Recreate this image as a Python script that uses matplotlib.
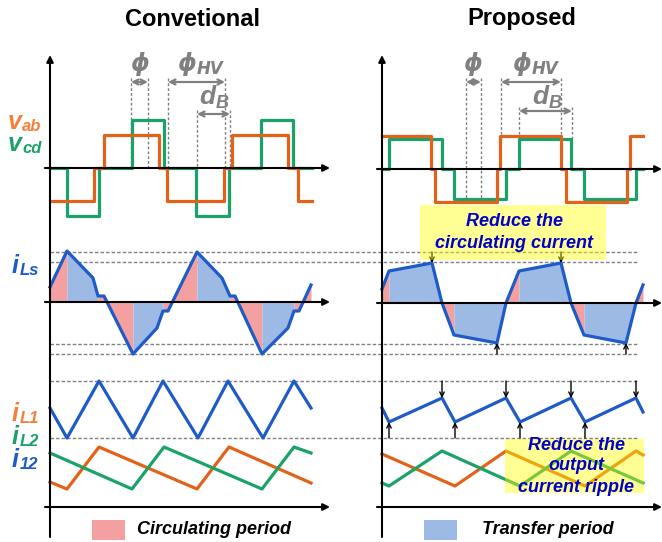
import numpy as np
import matplotlib.pyplot as plt
from matplotlib.patches import Rectangle

plt.rcParams["font.family"] = ["Liberation Sans", "DejaVu Sans"]

# waveform data: x = time (px), value = height above the row baseline (px)
# --- conventional (left) ---
vab_conv_edges = [50, 94, 104, 159, 167, 224, 232, 288, 298, 312]
vab_conv_level = [-33, 0, 33, 0, -33, 0, 33, 0, -33, -33]
vcd_conv_edges = [50, 67, 99, 132, 164, 196, 229, 261, 293, 312]
vcd_conv_level = [0, -48, 0, 48, 0, -48, 0, 48, 0, 0]

ils_conv_t = [50, 67, 93, 98, 104, 133, 157, 163, 168, 197, 222, 230, 235, 262, 288, 294, 299, 311]
ils_conv_v = [15, 51, 24, 6, 6, -52, -26, -9, -9, 50, 24, 6, 6, -52, -26, -9, -9, 17]
circ_conv = [(50, 67), (98, 133), (163, 197), (230, 262), (294, 311)]
xfer_conv = [(67, 98), (133, 163), (197, 230), (262, 294)]

i12_conv_t = [50, 67, 99, 133, 163, 198, 228, 263, 294, 311]
i12_conv_v = [99, 69, 126, 69, 126, 69, 126, 69, 126, 99]
il1_conv_t = [50, 67, 99, 197, 229, 311]
il1_conv_v = [25, 18, 60, 18, 60, 24]
il2_conv_t = [50, 132, 164, 262, 294, 311]
il2_conv_v = [54, 18, 60, 18, 60, 54]

# --- proposed (right) ---
vab_prop_edges = [382, 431, 435, 497, 500, 561, 566, 627, 630, 643]
vab_prop_level = [33, 0, -33, 0, 33, 0, -33, 0, 33, 33]
vcd_prop_edges = [382, 389, 442, 454, 506, 519, 571, 584, 636, 643]
vcd_prop_level = [0, 30, 0, -30, 0, 30, 0, -30, 0, 0]

ils_prop_t = [382, 389, 432, 442, 454, 497, 506, 519, 561, 571, 584, 626, 636, 643]
ils_prop_v = [14, 32, 40, 0, -32, -40, 0, 32, 40, 0, -32, -40, 0, 18]
circ_prop = [(382, 389), (442, 454), (506, 519), (571, 584), (636, 643)]
xfer_prop = [(389, 442), (454, 506), (519, 571), (584, 636)]

i12_prop_t = [382, 389, 442, 455, 506, 520, 571, 585, 636, 643]
i12_prop_v = [99, 85, 109, 85, 109, 85, 109, 85, 109, 95]
il1_prop_t = [382, 455, 506, 585, 636, 643]
il1_prop_v = [53, 21, 56, 21, 56, 52]
il2_prop_t = [382, 389, 442, 520, 571, 643]
il2_prop_v = [24, 21, 56, 21, 56, 24]

# reference levels (dashed) for the current rows
ils_levels = [50, 40, -42, -52]
i12_levels = [126, 69]

# phase spans (start, end) for the dimension arrows
phi_conv, phihv_conv, db_conv = (131, 148), (168, 225), (197, 230)
phi_prop, phihv_prop, db_prop = (466, 481), (501, 561), (519, 572)

ORANGE = "#E2621A"
GREEN = "#1AA268"
BLUE = "#1F5BC8"
PINK = "#F4A0A0"
LBLUE = "#9DBAE5"
GRAY = "#808080"
NAVY = "#0000C8"

V_BASE, I_BASE, B_BASE = 168, 302, 507
LW = 2.3

fig = plt.figure(figsize=(6.62, 5.42), dpi=100)
ax = fig.add_axes([0, 0, 1, 1])
ax.set_xlim(0, 662)
ax.set_ylim(542, 0)
ax.axis("off")


def arrow(x0, y0, x1, y1, style="-|>", color="black", lw=1.5, ms=10, z=5):
    ax.annotate("", xy=(x1, y1), xytext=(x0, y0),
                arrowprops=dict(arrowstyle=style, color=color, lw=lw,
                                mutation_scale=ms, shrinkA=0, shrinkB=0),
                zorder=z)


def sub_label(x, y, main, sub, color, size=16, subsize=12, fam=None, fy=0.33):
    kw = dict(color=color, fontweight="bold", fontstyle="italic")
    if fam:
        kw["family"] = fam
    t = ax.text(x, y, main, fontsize=size, ha="left", va="center", **kw)
    ax.annotate(sub, xy=(1, fy), xycoords=t, xytext=(0.3, 0),
                textcoords="offset points", fontsize=subsize,
                ha="left", va="center", **kw)


def fill_spans(t, v, base, spans, color):
    for a, b in spans:
        xs = np.array([a] + [p for p in t if a < p < b] + [b], dtype=float)
        ys = np.interp(xs, t, v)
        ax.fill_between(xs, base - ys, base, color=color, lw=0, zorder=1)


# dashed reference levels span both panels
for lv in ils_levels:
    ax.plot([50, 637], [I_BASE - lv, I_BASE - lv], color=GRAY, lw=1,
            ls=(0, (2.5, 1.5)), zorder=0)
for lv in i12_levels:
    ax.plot([50, 637], [B_BASE - lv, B_BASE - lv], color=GRAY, lw=1,
            ls=(0, (2.5, 1.5)), zorder=0)

panels = [
    dict(x0=50, xa=45, title="Convetional", tx=193,
         vab=(vab_conv_edges, vab_conv_level), vcd=(vcd_conv_edges, vcd_conv_level),
         ils=(ils_conv_t, ils_conv_v), circ=circ_conv, xfer=xfer_conv,
         i12=(i12_conv_t, i12_conv_v), il1=(il1_conv_t, il1_conv_v), il2=(il2_conv_t, il2_conv_v)),
    dict(x0=382, xa=377, title="Proposed", tx=522,
         vab=(vab_prop_edges, vab_prop_level), vcd=(vcd_prop_edges, vcd_prop_level),
         ils=(ils_prop_t, ils_prop_v), circ=circ_prop, xfer=xfer_prop,
         i12=(i12_prop_t, i12_prop_v), il1=(il1_prop_t, il1_prop_v), il2=(il2_prop_t, il2_prop_v)),
]

for p in panels:
    x0 = p["x0"]
    ax.text(p["tx"], 19, p["title"], fontsize=17, fontweight="bold",
            ha="center", va="center")
    # axes
    arrow(x0, 537, x0, 55)
    for yb in (V_BASE + (x0 > 300), I_BASE + (x0 > 300), B_BASE):
        arrow(p["xa"], yb, p["xa"] + 285, yb)

    vb = V_BASE + (x0 > 300)
    ib = I_BASE + (x0 > 300)
    e, lv = p["vcd"]
    ax.step(e, [vb - v for v in lv], where="post", color=GREEN, lw=LW, zorder=3)
    e, lv = p["vab"]
    ax.step(e, [vb - v for v in lv], where="post", color=ORANGE, lw=LW, zorder=3)

    t, v = p["ils"]
    fill_spans(t, v, ib, p["circ"], PINK)
    fill_spans(t, v, ib, p["xfer"], LBLUE)
    ax.plot(t, [ib - q for q in v], color=BLUE, lw=LW, zorder=3)

    for key, col in (("il1", ORANGE), ("il2", GREEN), ("i12", BLUE)):
        t, v = p[key]
        ax.plot(t, [B_BASE - q for q in v], color=col, lw=LW, zorder=3)

# dimension annotations
dims = [
    (phi_conv, 82, V_BASE, V_BASE), (phihv_conv, 82, V_BASE, V_BASE), (db_conv, 114, V_BASE, V_BASE),
    (phi_prop, 82, 200, 200), (phihv_prop, 82, 137, 137), (db_prop, 111, 140, 140),
]
for (a, b), ya, ea, eb in dims:
    ax.plot([a, a], [ya - 4, ea], color=GRAY, lw=1, ls=(0, (2, 1.5)), zorder=2)
    ax.plot([b, b], [ya - 4, eb], color=GRAY, lw=1, ls=(0, (2, 1.5)), zorder=2)
    arrow(a, ya, b, ya, style="<->", color=GRAY, lw=1.6, ms=9)

ax.text(140, 64, "ϕ", fontsize=17, color=GRAY, fontweight="bold", fontstyle="italic",
        ha="center", va="center", family="DejaVu Sans")
sub_label(177, 64, "ϕ", "HV", GRAY, 17, 12, fam="DejaVu Sans", fy=0.3)
sub_label(199, 97, "d", "B", GRAY, 19, 13, fy=0.25)
ax.text(473, 64, "ϕ", fontsize=17, color=GRAY, fontweight="bold", fontstyle="italic",
        ha="center", va="center", family="DejaVu Sans")
sub_label(512, 64, "ϕ", "HV", GRAY, 17, 12, fam="DejaVu Sans", fy=0.3)
sub_label(532, 97, "d", "B", GRAY, 19, 13, fy=0.25)

# left row labels
sub_label(8, 122, "v", "ab", "#F4803A", 18, 12)
sub_label(8, 144, "v", "cd", GREEN, 18, 12)
sub_label(12, 266, "i", "Ls", BLUE, 18, 12)
sub_label(12, 414, "i", "L1", "#F4803A", 18, 12)
sub_label(12, 437, "i", "L2", GREEN, 18, 12)
sub_label(12, 460, "i", "12", BLUE, 18, 12)

# peak / valley markers on the proposed waveforms
for x, v in zip(ils_prop_t, ils_prop_v):
    if v == 40:
        arrow(x, I_BASE + 1 - 51, x, I_BASE + 1 - v, style="->", lw=1, ms=8)
    elif v == -40:
        arrow(x, I_BASE + 1 + 51, x, I_BASE + 1 - v, style="->", lw=1, ms=8)
for x, v in zip(i12_prop_t, i12_prop_v):
    if v == 109:
        arrow(x, B_BASE - 126, x, B_BASE - v, style="->", lw=1, ms=8)
    elif v == 85:
        arrow(x, B_BASE - 69, x, B_BASE - v, style="->", lw=1, ms=8)

# callout boxes
ax.add_patch(Rectangle((420, 205), 186, 55, facecolor=(1, 1, 0, 0.42), lw=0, zorder=6))
ax.text(514, 222, "Reduce the", fontsize=13, color=NAVY, fontweight="bold",
        fontstyle="italic", ha="center", va="center", zorder=7)
ax.text(514, 243, "circulating current", fontsize=13, color=NAVY, fontweight="bold",
        fontstyle="italic", ha="center", va="center", zorder=7)
ax.add_patch(Rectangle((505, 439), 139, 54, facecolor=(1, 1, 0, 0.42), lw=0, zorder=6))
for yy, s in ((446, "Reduce the"), (466, "output"), (487, "current ripple")):
    ax.text(576, yy, s, fontsize=13, color=NAVY, fontweight="bold",
            fontstyle="italic", ha="center", va="center", zorder=7)

# legend swatches
ax.add_patch(Rectangle((92, 520), 33, 20, facecolor=PINK, lw=0))
ax.text(137, 530, "Circulating period", fontsize=13, fontweight="bold",
        fontstyle="italic", ha="left", va="center")
ax.add_patch(Rectangle((424, 520), 33, 20, facecolor=LBLUE, lw=0))
ax.text(482, 530, "Transfer period", fontsize=13, fontweight="bold",
        fontstyle="italic", ha="left", va="center")

fig.savefig("out.png", dpi=100)
